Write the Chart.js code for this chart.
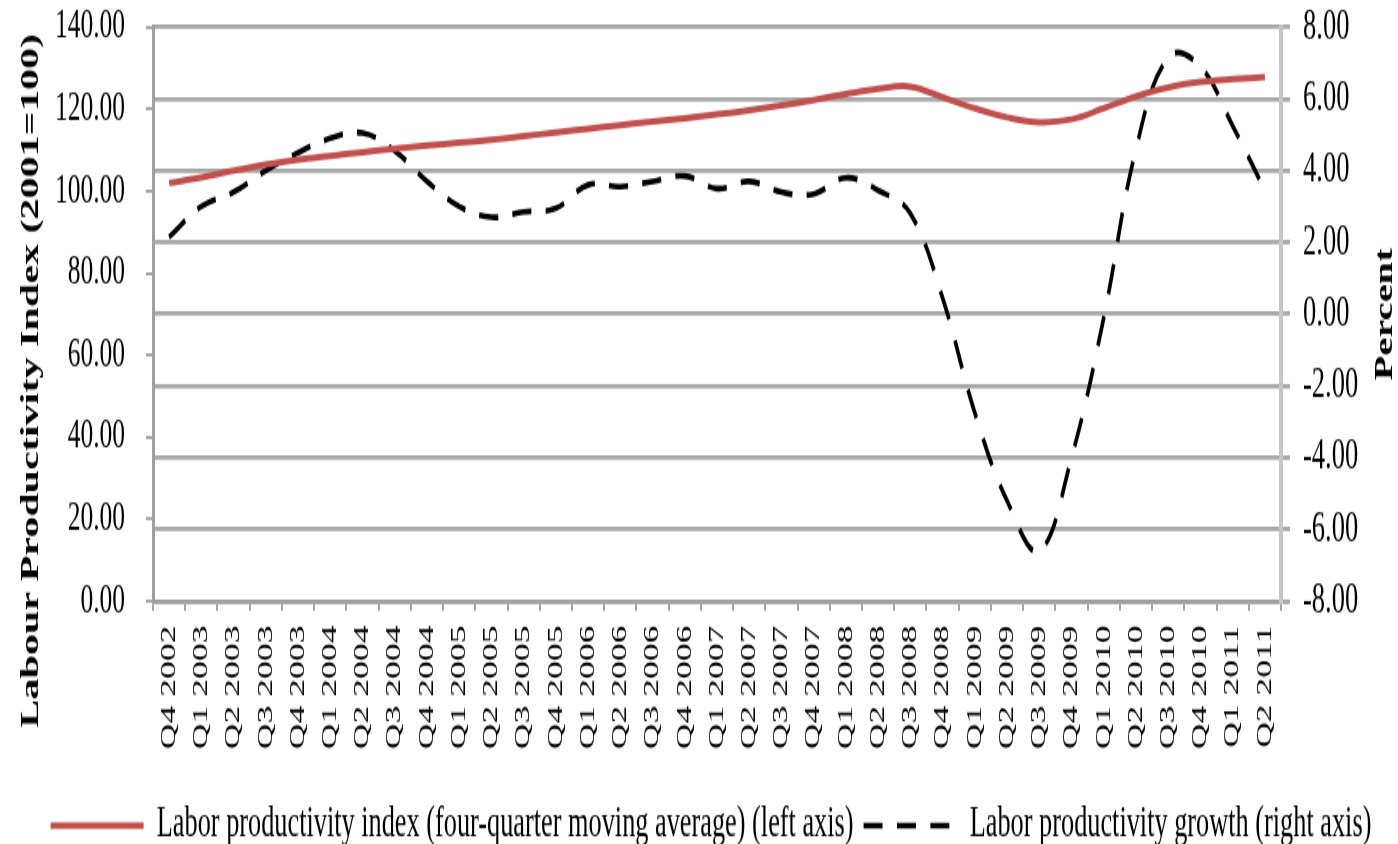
<!DOCTYPE html>
<html>
<head>
<meta charset="utf-8">
<script src="https://cdn.jsdelivr.net/npm/chart.js@4.4.1/dist/chart.umd.min.js"></script>
<style>
  html, body { margin: 0; padding: 0; background: #fff; overflow: hidden; }
  #c { display: block; width: 1398px; height: 875px; }
</style>
</head>
<body>
<canvas id="c" width="1398" height="540" style="width:1398px;height:875px;"></canvas>
<script>
const categories = [
  "Q4 2002",
  "Q1 2003","Q2 2003","Q3 2003","Q4 2003",
  "Q1 2004","Q2 2004","Q3 2004","Q4 2004",
  "Q1 2005","Q2 2005","Q3 2005","Q4 2005",
  "Q1 2006","Q2 2006","Q3 2006","Q4 2006",
  "Q1 2007","Q2 2007","Q3 2007","Q4 2007",
  "Q1 2008","Q2 2008","Q3 2008","Q4 2008",
  "Q1 2009","Q2 2009","Q3 2009","Q4 2009",
  "Q1 2010","Q2 2010","Q3 2010","Q4 2010",
  "Q1 2011","Q2 2011"
];

const productivityIndex = [
  102.0, 103.3, 105.0, 106.5, 107.7, 108.6, 109.5, 110.3, 111.1, 111.8,
  112.5, 113.4, 114.3, 115.2, 116.1, 117.0, 117.8, 118.7, 119.7, 120.9,
  122.2, 123.7, 125.0, 125.5, 122.9, 120.2, 118.0, 116.8, 117.5, 120.2,
  123.1, 125.3, 126.6, 127.3, 127.8
];

const productivityGrowth = [
  2.15, 3.0, 3.4, 4.0, 4.5, 4.9, 5.05, 4.55, 3.7, 3.0,
  2.7, 2.85, 2.95, 3.6, 3.55, 3.7, 3.85, 3.5, 3.7, 3.4,
  3.35, 3.8, 3.45, 2.8, 0.45, -2.75, -5.2, -6.6, -4.0, -0.1,
  4.6, 7.15, 6.9, 5.25, 3.45
];

const seriesNames = [
  "Labor productivity index (four-quarter moving average) (left axis)",
  "Labor productivity growth (right axis)"
];
const leftTitle = "Labour Productivity Index (2001=100)";
const rightTitle = "Percent";

const SERIF = '"Liberation Serif", "Times New Roman", serif';

const axisTitles = {
  id: 'axisTitles',
  afterDraw(chart) {
    const ctx = chart.ctx;
    ctx.save();
    ctx.fillStyle = '#000';
    ctx.textAlign = 'center';
    ctx.textBaseline = 'middle';
    ctx.font = 'bold 26px ' + SERIF;
    ctx.translate(31, 235);
    ctx.rotate(-Math.PI / 2);
    ctx.fillText(leftTitle, 0, 0);
    ctx.restore();
    ctx.save();
    ctx.fillStyle = '#000';
    ctx.textAlign = 'center';
    ctx.textBaseline = 'middle';
    ctx.font = 'bold 25px ' + SERIF;
    ctx.translate(1386, 194);
    ctx.rotate(-Math.PI / 2);
    ctx.fillText(rightTitle, 0, 0);
    ctx.restore();
  }
};

new Chart(document.getElementById('c'), {
  type: 'line',
  data: {
    labels: categories,
    datasets: [
      {
        label: seriesNames[0],
        data: productivityIndex,
        yAxisID: 'yL',
        borderColor: '#c0504d',
        backgroundColor: '#c0504d',
        borderWidth: 4,
        pointRadius: 0,
        tension: 0.4,
        fill: false
      },
      {
        label: seriesNames[1],
        data: productivityGrowth,
        yAxisID: 'yR',
        borderColor: '#000000',
        backgroundColor: '#000000',
        borderWidth: 3.6,
        borderDash: [19, 14.4],
        pointRadius: 0,
        tension: 0.4,
        fill: false
      }
    ]
  },
  options: {
    responsive: false,
    animation: false,
    devicePixelRatio: 1,
    layout: { padding: { top: 16.7, bottom: 7.4, left: 24, right: 0 } },
    plugins: {
      tooltip: { enabled: false },
      legend: {
        position: 'bottom',
        labels: {
          usePointStyle: false,
          boxWidth: 93,
          boxHeight: 0,
          padding: 10,
          color: '#000',
          font: { family: SERIF, size: 26.3 }
        }
      }
    },
    scales: {
      x: {
        offset: true,
        grid: {
          offset: true,
          drawOnChartArea: false,
          drawTicks: true,
          tickLength: 6,
          color: '#a6a6a6',
          lineWidth: 2
        },
        border: { display: true, color: '#a0a0a0', width: 2.6 },
        ticks: {
          autoSkip: false,
          maxRotation: 90,
          minRotation: 90,
          padding: 9,
          color: '#000',
          font: { family: SERIF, size: 22 }
        },
        afterFit(scale) { scale.height = 115.3; }
      },
      yL: {
        position: 'left',
        min: 0,
        max: 140,
        ticks: {
          stepSize: 20,
          padding: 21,
          color: '#000',
          font: { family: SERIF, size: 25.5 },
          callback: (v) => Number(v).toFixed(2)
        },
        grid: {
          drawOnChartArea: false,
          drawTicks: true,
          tickLength: 7,
          color: '#a6a6a6',
          lineWidth: 2
        },
        border: { display: true, color: '#a0a0a0', width: 3 },
        afterFit(scale) { scale.width = 129; scale.paddingTop = 0; scale.paddingBottom = 0; }
      },
      yR: {
        position: 'right',
        min: -8,
        max: 8,
        ticks: {
          stepSize: 2,
          padding: 13,
          color: '#000',
          font: { family: SERIF, size: 26.5 },
          callback: (v) => Number(v).toFixed(2)
        },
        grid: {
          drawOnChartArea: true,
          drawTicks: true,
          tickLength: 9,
          color: '#a8a8a8',
          lineWidth: 2.8
        },
        border: { display: true, color: '#c6c6c6', width: 4 },
        afterFit(scale) { scale.width = 117; scale.paddingTop = 0; scale.paddingBottom = 0; }
      }
    }
  },
  plugins: [axisTitles]
});
</script>
</body>
</html>
